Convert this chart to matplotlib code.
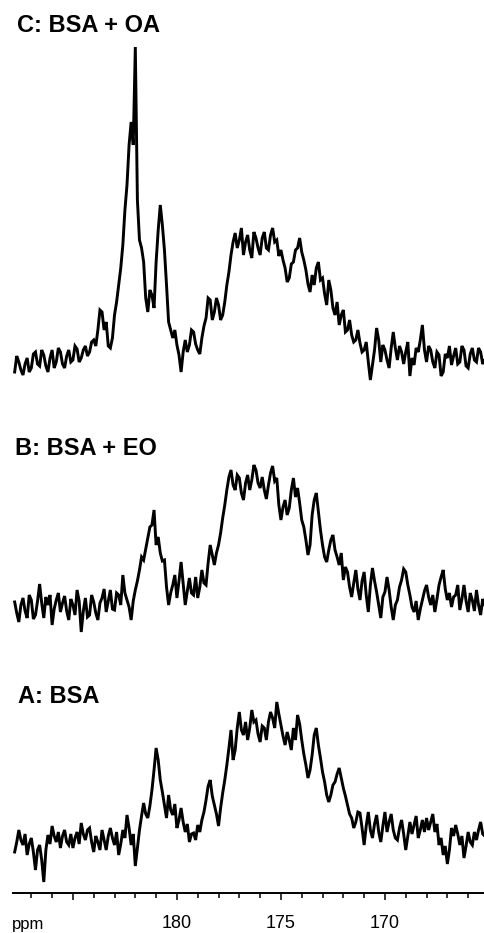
import numpy as np
import matplotlib.pyplot as plt

plt.rcParams["font.family"] = ["Liberation Sans", "DejaVu Sans"]

# chemical shift grid (ppm), 0.1 ppm steps from 187.8 down to 165.2
PPM_START = 187.8
PPM_STEP = 0.1
N_POINTS = 227

# intensities, relative to each trace baseline
C_BSA_OA = [
    -12, 4, -2, -10, -15, -4, 2, -12, -8, 6, 8, -4, -6, 10, 5, -6, -12, 2, 10, -8,
    -2, 12, 8, -4, -8, 4, 10, -2, 0, 14, 11, -2, 2, 10, 14, 4, 8, 18, 20, 14,
    30, 50, 48, 30, 38, 14, 12, 22, 45, 58, 75, 92, 115, 150, 175, 215, 238, 215, 313, 160,
    120, 112, 98, 62, 48, 70, 65, 52, 98, 130, 155, 135, 110, 75, 38, 30, 22, 30, 15, 5,
    -12, 8, 20, 8, 15, 30, 28, 16, 10, 6, 22, 34, 42, 62, 60, 40, 48, 62, 55, 40,
    45, 58, 75, 88, 105, 118, 127, 112, 120, 132, 105, 118, 125, 110, 102, 128, 122, 112, 105, 122,
    128, 112, 110, 125, 132, 118, 120, 104, 110, 100, 92, 78, 82, 96, 98, 110, 112, 122, 108, 100,
    90, 76, 68, 85, 75, 92, 98, 80, 82, 66, 55, 80, 70, 52, 45, 58, 35, 45, 50, 28,
    30, 40, 25, 18, 20, 30, 17, 8, 10, 18, -2, -20, -5, 10, 32, 20, -2, 15, 10, 0,
    -8, 12, 28, 12, 0, 14, 8, -4, 8, 18, -16, 2, -5, 12, 8, 20, 35, 10, -2, 14,
    10, -2, -8, 8, 5, -16, -12, 6, 2, 14, -5, 4, 12, -4, -2, 14, 10, -6, -8, 6,
    12, 0, -2, 12, 8, -4, 0,
]

B_BSA_EO = [
    3, -8, -17, 0, 7, -6, -13, 10, 5, -14, -10, 4, 21, 2, -13, 8, 0, 10, -20, -4,
    5, 12, -7, 2, 9, -6, -15, 6, 0, -10, 15, 4, -27, -6, 7, -12, -10, 10, 3, -8,
    -15, 2, 7, 16, -7, 4, 15, -4, -5, 12, 10, 0, 30, 12, 5, -2, -15, 4, 15, 24,
    35, 48, 45, 56, 67, 78, 80, 95, 60, 68, 52, 44, 45, 18, 0, 12, 20, 30, 7, 24,
    43, 22, 0, 14, 27, 12, 10, 28, 7, 18, 35, 22, 20, 42, 60, 50, 40, 52, 60, 72,
    87, 100, 115, 128, 135, 120, 115, 130, 127, 112, 105, 122, 130, 115, 125, 140, 135, 122, 117, 128,
    115, 106, 120, 132, 139, 124, 127, 100, 85, 98, 105, 90, 97, 115, 127, 108, 117, 102, 85, 78,
    65, 50, 60, 90, 105, 112, 93, 75, 60, 48, 43, 55, 65, 70, 55, 48, 40, 52, 25, 38,
    33, 18, 8, 22, 35, 16, 5, 24, 33, 10, -7, 20, 37, 24, 13, 0, -13, 8, 13, 28,
    15, -2, -15, 0, 5, 18, 25, 36, 33, 20, 10, -2, -7, 4, -15, -4, 5, 14, 20, 8,
    0, 10, -7, 6, 20, 28, 35, 16, 5, 12, -2, 8, 10, 20, -5, 6, 20, 4, -7, 12,
    5, -6, 15, 0, -10, 6, 0,
]

A_BSA = [
    -12, -2, 10, 0, -5, 6, -15, -4, 2, -12, -30, -10, -5, -20, -42, -10, 5, -4, 14, 4,
    -2, 8, -8, 4, 10, -2, -5, 6, -8, 2, 8, -4, 17, 6, 0, 10, 12, -2, -12, 4,
    -2, -10, 10, 0, -10, 4, 12, 2, -5, 8, -15, -4, 10, 2, 25, 12, -5, 6, -26, -8,
    10, 24, 37, 26, 22, 34, 50, 70, 92, 80, 60, 48, 35, 22, 45, 30, 25, 36, 12, 20,
    32, 18, 8, 16, -2, 6, 7, 0, 15, 8, 20, 28, 40, 54, 60, 44, 35, 26, 14, 32,
    47, 60, 75, 92, 110, 80, 90, 112, 128, 110, 105, 118, 100, 112, 130, 118, 120, 106, 98, 114,
    112, 100, 118, 128, 122, 112, 138, 126, 115, 104, 95, 108, 100, 90, 112, 100, 125, 116, 100, 86,
    75, 62, 70, 85, 105, 112, 95, 82, 68, 58, 45, 38, 45, 55, 58, 66, 72, 62, 52, 44,
    35, 26, 22, 12, 18, 28, 27, 12, -5, 14, 28, 10, 2, 16, 25, 8, -2, 14, 28, 8,
    18, 26, 10, 2, 0, 12, 20, 6, -10, 4, 18, 6, 15, 24, 2, 10, 20, 8, 22, 10,
    18, 26, 8, 16, -5, 2, -15, -6, -24, -10, 12, 4, 15, 6, -5, 4, -18, -6, 8, -2,
    -5, 8, 0, 10, 18, 6, 4,
]

LABELS = [
    "C: BSA + OA",
    "B: BSA + EO",
    "A: BSA",
]

MAJOR_TICKS = [185, 180, 175, 170]
MAJOR_LABELS = ["", "180", "175", "170"]


def main():

    ppm = PPM_START - PPM_STEP * np.arange(N_POINTS)

    fig = plt.figure(
        figsize=(4.85, 9.33),
        dpi=100,
    )

    ax = fig.add_axes(
        [13 / 485, 40 / 933, 472 / 485, 853 / 933]
    )

    traces = [C_BSA_OA, B_BSA_EO, A_BSA]
    offsets = [533, 288, 53]

    for values, offset in zip(traces, offsets):

        ax.plot(
            ppm,
            np.array(values) + offset,
            color="black",
            linewidth=2.1,
            solid_joinstyle="miter",
        )

    ax.set_xlim(187.88, 165.19)
    ax.set_ylim(0, 853)

    for side in ["top", "right", "left"]:
        ax.spines[side].set_visible(False)

    ax.spines["bottom"].set_linewidth(1.4)

    ax.set_yticks([])

    ax.set_xticks(MAJOR_TICKS)
    ax.set_xticklabels(MAJOR_LABELS)
    ax.set_xticks(
        np.arange(166, 188),
        minor=True,
    )

    ax.tick_params(
        axis="x",
        which="major",
        length=5,
        width=1.1,
        pad=11,
        labelsize=13,
    )
    ax.tick_params(
        axis="x",
        which="minor",
        length=3.5,
        width=1.1,
    )

    fig.text(
        28 / 485,
        1 - 925 / 933,
        "ppm",
        ha="center",
        va="center",
        fontsize=12,
    )

    title_baselines = [32, 455, 703]
    title_left = [17, 15, 18]

    for label, yb, xl in zip(LABELS, title_baselines, title_left):

        fig.text(
            xl / 485,
            1 - yb / 933,
            label,
            ha="left",
            va="baseline",
            fontsize=17,
            fontweight="bold",
        )

    fig.savefig("out.png", dpi=100)
    plt.close(fig)


main()
